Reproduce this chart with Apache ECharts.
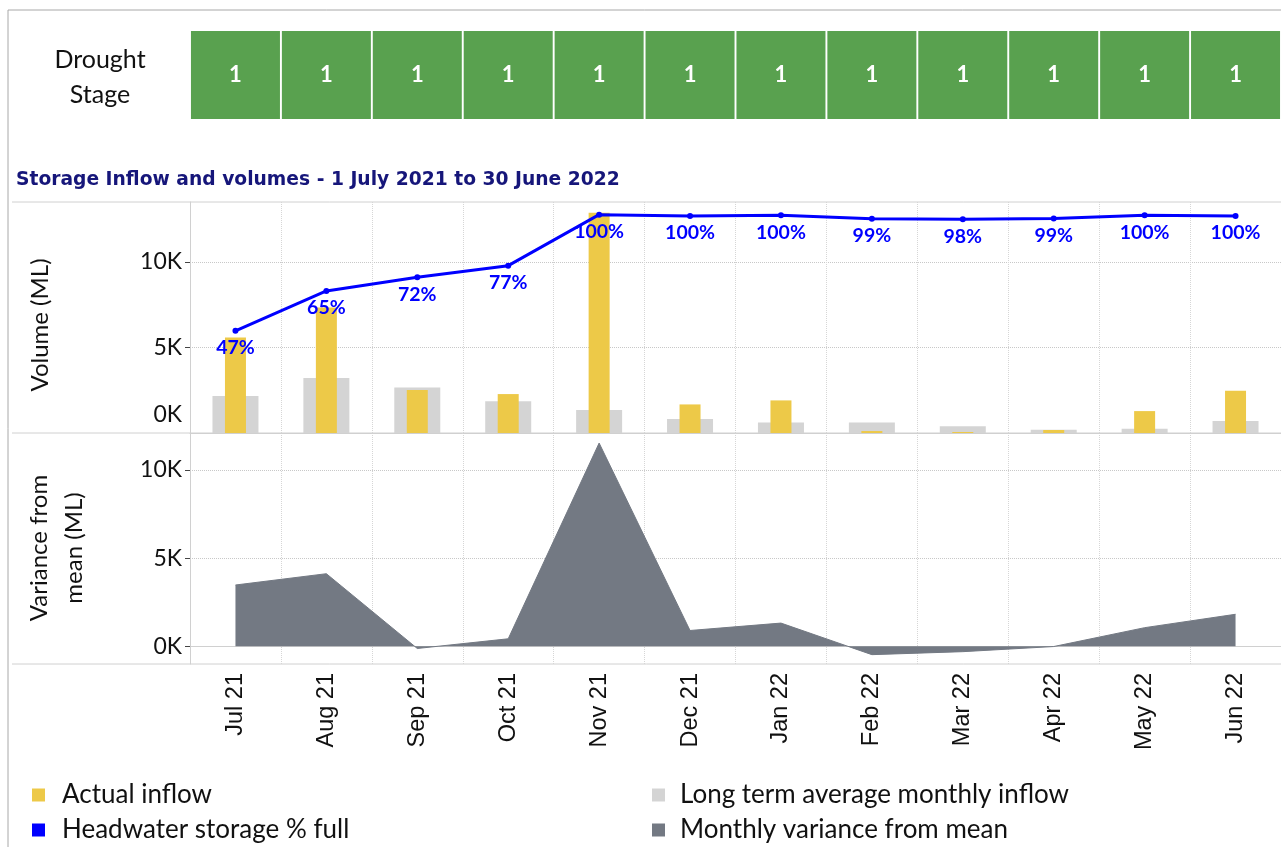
<!DOCTYPE html>
<html>
<head>
<meta charset="utf-8">
<script src="https://cdn.jsdelivr.net/npm/echarts@6/dist/echarts.min.js"></script>
<style>
    html,body{margin:0;padding:0;background:#fff;}
    #main{width:1281px;height:847px;}
</style>
</head>
<body>
<div id="main"></div>
<script>
var months = ['Jul 21','Aug 21','Sep 21','Oct 21','Nov 21','Dec 21','Jan 22','Feb 22','Mar 22','Apr 22','May 22','Jun 22'];
var droughtStage = [1,1,1,1,1,1,1,1,1,1,1,1];
var actualInflow = [5580,7340,2510,2275,12870,1670,1905,115,60,175,1280,2470];
var avgInflow = [2160,3210,2665,1850,1340,815,620,620,390,195,250,700];
var storageVolume = [5970,8300,9100,9780,12760,12680,12720,12525,12485,12540,12720,12680];
var storagePct = [47,65,72,77,100,100,100,99,98,99,100,100];
var variance = [3480,4120,-120,430,11530,900,1320,-470,-300,-10,1060,1820];
var volumeTicks = [0,5000,10000];

var calibri = 'Lato, "Open Sans", sans-serif';
var gridLeft = 190, gridWidth = 1101;

function kLabel(v){
    return Math.round(v/1000) + 'K';
}

var myChart = echarts.init(document.getElementById('main'));

var option = {
    animation:false,
    backgroundColor:'#fff',
    grid:[
        {left:gridLeft, top:31, width:gridWidth, height:88},
        {left:gridLeft, top:202, width:gridWidth, height:231},
        {left:gridLeft, top:433, width:gridWidth, height:231}
    ],
    xAxis:[
        // drought stage strip
        {type:'category', gridIndex:0, data:months, show:false},
        // top chart
        {type:'category', gridIndex:1, data:months,
            axisLabel:{show:false}, axisTick:{show:false},
            axisLine:{lineStyle:{color:'#d0d0d0'}},
            splitLine:{show:true, interval:0, lineStyle:{color:'#d6d6d6', type:'dotted'}}},
        {type:'category', gridIndex:1, data:months, show:false},
        {type:'category', gridIndex:1, data:months, show:false},
        // bottom chart
        {type:'category', gridIndex:2, data:months,
            axisTick:{show:false},
            axisLine:{lineStyle:{color:'#d0d0d0'}},
            splitLine:{show:true, interval:0, lineStyle:{color:'#d6d6d6', type:'dotted'}},
            axisLabel:{rotate:90, interval:0, margin:9, fontSize:23.5, color:'#111',
                fontFamily:'"Liberation Sans", Arial, sans-serif'}}
    ],
    yAxis:[
        {type:'value', gridIndex:0, min:0, max:1, show:false},
        {type:'value', gridIndex:1, min:0, max:13500,
            axisLine:{show:true, lineStyle:{color:'#d0d0d0'}},
            axisTick:{show:true, length:5, customValues:[5000,10000], lineStyle:{color:'#444'}},
            splitLine:{show:true, lineStyle:{color:'#c8c8c8', type:'dotted'}},
            axisLabel:{customValues:volumeTicks, fontSize:23, color:'#111', fontFamily:calibri, margin:8,
                formatter:function(v){ return v===0 ? '{z|0K}' : kLabel(v); },
                rich:{z:{fontSize:23, fontFamily:calibri, color:'#111', padding:[0,0,36,0]}}}},
        {type:'value', gridIndex:2, min:-1000, max:12100,
            axisLine:{show:true, lineStyle:{color:'#d0d0d0'}},
            axisTick:{show:true, length:5, customValues:volumeTicks, lineStyle:{color:'#444'}},
            splitLine:{show:true, lineStyle:{color:'#c8c8c8', type:'dotted'}},
            axisLabel:{customValues:volumeTicks, fontSize:23, color:'#111', fontFamily:calibri, margin:8,
                formatter:kLabel}}
    ],
    legend:[
        {left:32, top:781, padding:0, orient:'vertical', itemGap:7, icon:'rect', itemWidth:13, itemHeight:13,
            selectedMode:false,
            textStyle:{fontSize:26, lineHeight:28, fontFamily:calibri, color:'#111', padding:[0,0,0,12]},
            data:['Actual inflow','Headwater storage % full']},
        {left:652, top:781, padding:0, orient:'vertical', itemGap:7, icon:'rect', itemWidth:13, itemHeight:13,
            selectedMode:false,
            textStyle:{fontSize:26, lineHeight:28, fontFamily:calibri, color:'#111', padding:[0,0,0,10]},
            data:['Long term average monthly inflow','Monthly variance from mean']}
    ],
    graphic:[
        // frame
        {type:'line', shape:{x1:8,y1:10,x2:1281,y2:10}, style:{stroke:'#a8a8a8', lineWidth:1}},
        {type:'line', shape:{x1:8,y1:10,x2:8,y2:847}, style:{stroke:'#a8a8a8', lineWidth:1}},
        {type:'line', shape:{x1:12,y1:202,x2:1281,y2:202}, style:{stroke:'#d0d0d0', lineWidth:1}},
        {type:'line', shape:{x1:12,y1:433,x2:1281,y2:433}, style:{stroke:'#d0d0d0', lineWidth:1}},
        {type:'line', shape:{x1:12,y1:664,x2:1281,y2:664}, style:{stroke:'#d0d0d0', lineWidth:1}},
        {type:'text', style:{x:100, y:77, text:'Drought\nStage', fill:'#111', align:'center',
            verticalAlign:'middle', font:'25px ' + calibri, lineHeight:35}},
        {type:'text', style:{x:16, y:180, text:'Storage Inflow and volumes - 1 July 2021 to 30 June 2022',
            fill:'#16167a', verticalAlign:'middle', font:'bold 18.7px "DejaVu Sans", sans-serif'}},
        {type:'text', x:40, y:325, rotation:Math.PI/2, style:{x:0, y:0, text:'Volume (ML)', fill:'#111',
            align:'center', verticalAlign:'middle', font:'24px ' + calibri}},
        {type:'text', x:57, y:548, rotation:Math.PI/2, style:{x:0, y:0, text:'Variance from\nmean (ML)', fill:'#111',
            align:'center', verticalAlign:'middle', font:'24px ' + calibri, lineHeight:35}}
    ],
    series:[
        {
            name:'Drought stage', type:'bar', xAxisIndex:0, yAxisIndex:0,
            data:droughtStage, barWidth:89, itemStyle:{color:'#59a14f'},
            label:{show:true, position:'inside', color:'#fff', fontSize:22, fontWeight:'bold', fontFamily:calibri}
        },
        {
            name:'Long term average monthly inflow', type:'bar', xAxisIndex:2, yAxisIndex:1,
            data:avgInflow, barWidth:46, itemStyle:{color:'#d4d4d4'}
        },
        {
            name:'Actual inflow', type:'bar', xAxisIndex:3, yAxisIndex:1,
            data:actualInflow, barWidth:21, itemStyle:{color:'#edc948'}
        },
        {
            name:'Headwater storage % full', type:'line', xAxisIndex:1, yAxisIndex:1,
            data:storageVolume, color:'#0000ff', symbol:'circle', symbolSize:6,
            lineStyle:{width:3, color:'#0000ff'}, itemStyle:{color:'#0000ff'},
            label:{show:true, position:'bottom', distance:4, color:'#0000ff', fontSize:19.5, fontWeight:'bold',
                fontFamily:calibri,
                formatter:function(p){ return storagePct[p.dataIndex] + '%'; }}
        },
        {
            name:'Monthly variance from mean', type:'line', xAxisIndex:4, yAxisIndex:2,
            data:variance, color:'#737983', symbol:'none',
            lineStyle:{width:1, color:'#737983'}, itemStyle:{color:'#737983'},
            areaStyle:{color:'#737983', opacity:1}
        }
    ]
};

myChart.setOption(option);
</script>
</body>
</html>
